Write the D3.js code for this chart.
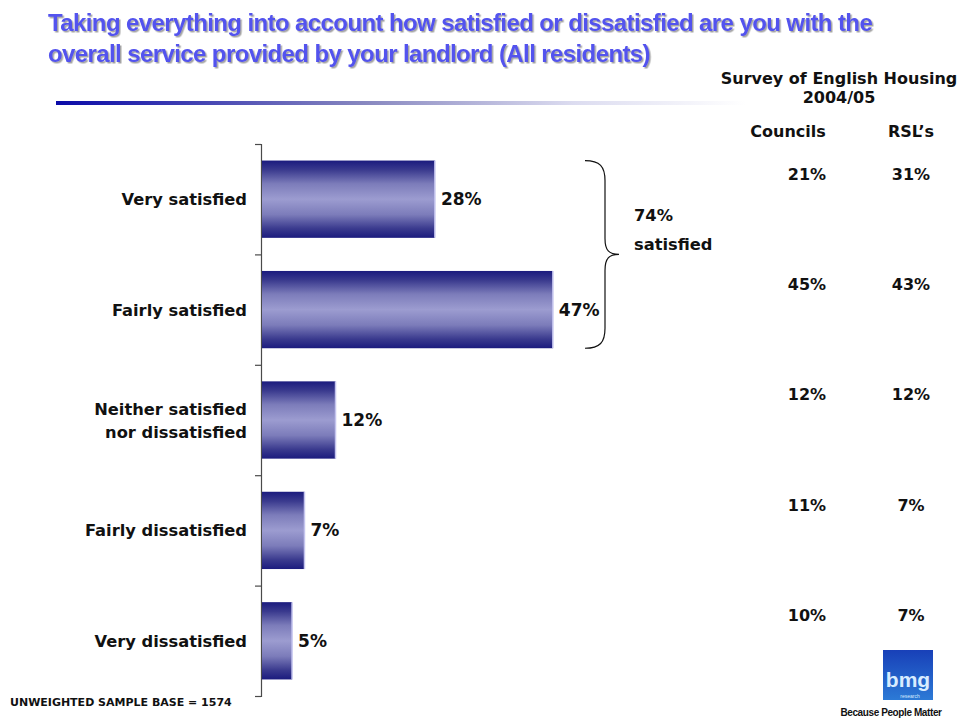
<!DOCTYPE html>
<html>
<head>
<meta charset="utf-8">
<script src="https://cdn.jsdelivr.net/npm/d3@7"></script>
<style>
  html, body { margin: 0; padding: 0; background: #fff; }
  svg { display: block; }
</style>
</head>
<body>
<svg id="chart" width="961" height="720"></svg>
<script>
const categories = ["Very satisfied", "Fairly satisfied", "Neither satisfied\nnor dissatisfied", "Fairly dissatisfied", "Very dissatisfied"];
const values = [28, 47, 12, 7, 5];
const councils = ["21%", "45%", "12%", "11%", "10%"];
const rsls = ["31%", "43%", "12%", "7%", "7%"];
const titleLines = ["Taking everything into account how satisfied or dissatisfied are you with the",
                    "overall service provided by your landlord (All residents)"];
const satisfiedTotal = "74%";

(function () {
const svg = d3.select("#chart");
const defs = svg.append("defs");

const bg = defs.append("linearGradient").attr("id", "barGrad").attr("x1", 0).attr("y1", 0).attr("x2", 0).attr("y2", 1);
[[0, "#1b1b7e"], [0.12, "#3a3a8e"], [0.3, "#7c7cba"], [0.5, "#9c9cd0"], [0.7, "#7c7cba"], [0.88, "#3a3a8e"], [1, "#1b1b7e"]]
  .forEach(([o, c]) => bg.append("stop").attr("offset", o).attr("stop-color", c));

const lg = defs.append("linearGradient").attr("id", "lineGrad").attr("x1", 0).attr("y1", 0).attr("x2", 1).attr("y2", 0);
[[0, "#0a0aa8"], [0.45, "#8888c0"], [0.75, "#dcdcf0"], [1, "#ffffff"]]
  .forEach(([o, c]) => lg.append("stop").attr("offset", o).attr("stop-color", c));

const logoG = defs.append("linearGradient").attr("id", "logoGrad").attr("x1", 0).attr("y1", 0).attr("x2", 0).attr("y2", 1);
[[0, "#1840b8"], [1, "#2c7ad6"]].forEach(([o, c]) => logoG.append("stop").attr("offset", o).attr("stop-color", c));

const shadow = defs.append("filter").attr("id", "shadow").attr("x", "-5%").attr("y", "-20%").attr("width", "110%").attr("height", "150%");
shadow.append("feDropShadow").attr("dx", 1.5).attr("dy", 1.5).attr("stdDeviation", 0.6).attr("flood-color", "#9a9a9a").attr("flood-opacity", 0.9);

// Title
const title = svg.append("g").attr("filter", "url(#shadow)");
titleLines.forEach((t, i) => {
  title.append("text").attr("x", 48).attr("y", 31 + i * 31)
    .attr("font-family", "Liberation Sans, Arial, sans-serif").attr("font-weight", "bold")
    .attr("font-size", 24).attr("letter-spacing", -0.6).attr("fill", "#5252ee").text(t);
});
svg.append("rect").attr("x", 56).attr("y", 101).attr("width", 690).attr("height", 4).attr("fill", "url(#lineGrad)");

// Scales
const x = d3.scaleLinear().domain([0, 10]).range([261, 323.1]);
const y = d3.scaleBand().domain(d3.range(categories.length)).range([144, 696]).paddingInner(0.3).paddingOuter(0.15);

const font = "DejaVu Sans, Verdana, sans-serif";
const fs = 16.3;

// Axis
const axis = d3.axisLeft(d3.scaleLinear().domain([0, categories.length]).range([144, 696]))
  .ticks(categories.length).tickFormat("").tickSize(6).tickSizeOuter(6);
const ag = svg.append("g").attr("transform", "translate(261,0)").call(axis);
ag.selectAll("path, line").attr("stroke", "#4a4a4a").attr("stroke-width", 1.2);

// Bars
svg.selectAll("rect.bar").data(values).join("rect").attr("class", "bar")
  .attr("x", x(0) + 1).attr("y", (d, i) => y(i))
  .attr("width", d => x(d) - x(0) - 1).attr("height", y.bandwidth())
  .attr("fill", "url(#barGrad)");
svg.selectAll("line.edge").data(values).join("line").attr("class", "edge")
  .attr("x1", d => x(d)).attr("x2", d => x(d))
  .attr("y1", (d, i) => y(i)).attr("y2", (d, i) => y(i) + y.bandwidth())
  .attr("stroke", "#c4c4ee").attr("stroke-width", 1.5);

// Value labels
svg.selectAll("text.val").data(values).join("text").attr("class", "val")
  .attr("x", d => x(d) + 6).attr("y", (d, i) => y(i) + y.bandwidth() / 2 + 6)
  .attr("font-family", font).attr("font-weight", "bold").attr("font-size", 17).attr("fill", "#111")
  .text(d => d + "%");

// Category labels
categories.forEach((c, i) => {
  const lines = c.split("\n");
  const t = svg.append("text").attr("text-anchor", "end")
    .attr("font-family", font).attr("font-weight", "bold").attr("font-size", fs).attr("fill", "#111");
  const cy = y(i) + y.bandwidth() / 2;
  lines.forEach((l, j) => {
    t.append("tspan").attr("x", 247)
      .attr("y", cy + 6 + (j - (lines.length - 1) / 2) * 23).text(l);
  });
});

// Brace
const bTop = y(0), bBot = y(1) + y.bandwidth(), bMid = (bTop + bBot) / 2;
const bx = 605;
svg.append("path")
  .attr("d", `M585,${bTop} C600,${bTop} ${bx},${bTop + 6} ${bx},${bTop + 20} L${bx},${bMid - 16} C${bx},${bMid - 4} ${bx + 4},${bMid} ${bx + 14},${bMid} C${bx + 4},${bMid} ${bx},${bMid + 4} ${bx},${bMid + 16} L${bx},${bBot - 20} C${bx},${bBot - 6} 600,${bBot} 585,${bBot}`)
  .attr("fill", "none").attr("stroke", "#111").attr("stroke-width", 1.2);
svg.append("text").attr("x", 634).attr("y", 221).attr("font-family", font).attr("font-weight", "bold")
  .attr("font-size", fs).attr("fill", "#111").text(satisfiedTotal);
svg.append("text").attr("x", 634).attr("y", 250).attr("font-family", font).attr("font-weight", "bold")
  .attr("font-size", fs).attr("fill", "#111").text("satisfied");

// Right table
const tf = (sel) => sel.attr("font-family", font).attr("font-weight", "bold").attr("font-size", 16).attr("fill", "#111").attr("text-anchor", "middle");
tf(svg.append("text").attr("x", 839).attr("y", 84)).text("Survey of English Housing");
tf(svg.append("text").attr("x", 839).attr("y", 103)).text("2004/05");
tf(svg.append("text").attr("x", 788).attr("y", 137)).text("Councils");
tf(svg.append("text").attr("x", 911).attr("y", 137)).text("RSL\u2019s");
svg.selectAll("text.cc").data(councils).join("text").attr("class", "cc").call(tf)
  .attr("x", 807).attr("y", (d, i) => y(i) + 19).text(d => d);
svg.selectAll("text.rr").data(rsls).join("text").attr("class", "rr").call(tf)
  .attr("x", 911).attr("y", (d, i) => y(i) + 19).text(d => d);

// Footer
svg.append("text").attr("x", 10).attr("y", 706).attr("font-family", font).attr("font-weight", "bold")
  .attr("font-size", 11).attr("fill", "#111").text("UNWEIGHTED SAMPLE BASE = 1574");

// Logo
svg.append("rect").attr("x", 883).attr("y", 650).attr("width", 50).attr("height", 50).attr("fill", "url(#logoGrad)");
svg.append("text").attr("x", 908).attr("y", 687).attr("text-anchor", "middle").attr("font-family", "Liberation Sans, Arial, sans-serif")
  .attr("font-weight", "bold").attr("font-size", 21).attr("fill", "#d8ecff").text("bmg");
svg.append("text").attr("x", 910).attr("y", 697.5).attr("text-anchor", "middle").attr("font-family", "Liberation Sans, Arial, sans-serif")
  .attr("font-size", 5).attr("fill", "#d8ecff").text("research");
svg.append("text").attr("x", 891).attr("y", 716).attr("text-anchor", "middle").attr("font-family", "Liberation Sans, Arial, sans-serif")
  .attr("font-weight", "bold").attr("font-size", 10).attr("letter-spacing", -0.4).attr("fill", "#111").text("Because People Matter");
})();
</script>
</body>
</html>
